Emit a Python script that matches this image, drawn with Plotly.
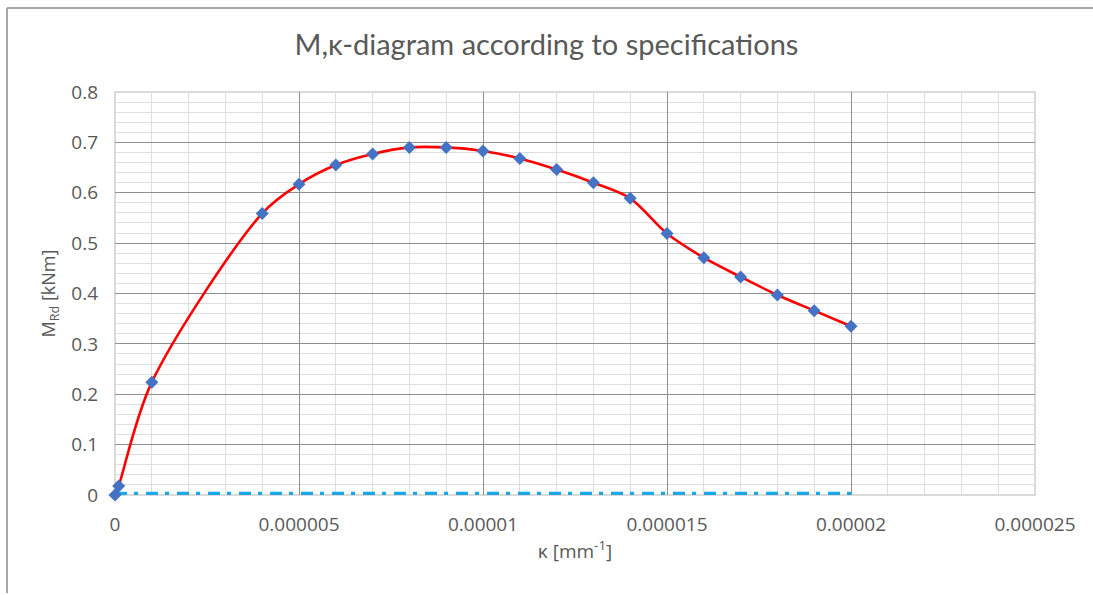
import plotly.graph_objects as go

# Curvature κ [mm^-1] and design moment M_Rd [kNm]
kappa = [0, 0.0000001, 0.000001, 0.000004, 0.000005, 0.000006, 0.000007,
         0.000008, 0.000009, 0.00001, 0.000011, 0.000012, 0.000013, 0.000014,
         0.000015, 0.000016, 0.000017, 0.000018, 0.000019, 0.00002]
m_rd = [0, 0.018, 0.224, 0.559, 0.617, 0.655, 0.677, 0.690, 0.690, 0.683,
        0.668, 0.646, 0.620, 0.589, 0.519, 0.471, 0.433, 0.397, 0.366, 0.335]

# Reference line along the bottom
ref_kappa = [0, 0.00002]
ref_m = [0.003, 0.003]

x_ticks = [0, 0.000005, 0.00001, 0.000015, 0.00002, 0.000025]
x_tick_text = ["0", "0.000005", "0.00001", "0.000015", "0.00002", "0.000025"]
y_ticks = [0, 0.1, 0.2, 0.3, 0.4, 0.5, 0.6, 0.7, 0.8]
y_tick_text = ["0", "0.1", "0.2", "0.3", "0.4", "0.5", "0.6", "0.7", "0.8"]

TXT = "#595959"
MAJOR = "#8f8f8f"
MINOR = "#dedede"
FONT = "Open Sans"

fig = go.Figure()

fig.add_trace(go.Scatter(
    x=ref_kappa, y=ref_m, mode="lines",
    line=dict(color="#1aa7e6", width=3.5, dash="12px,7px,4px,8px"),
    showlegend=False, hoverinfo="skip",
))

fig.add_trace(go.Scatter(
    x=kappa, y=m_rd, mode="lines+markers",
    line=dict(color="#ff0000", width=2.6, shape="spline", smoothing=0.9),
    marker=dict(symbol="diamond", size=10, color="#4472c4"),
    cliponaxis=False,
    showlegend=False,
))

fig.update_xaxes(
    range=[0, 0.000025],
    tickmode="array", tickvals=x_ticks, ticktext=x_tick_text,
    showgrid=True, gridcolor=MAJOR, gridwidth=1.3,
    minor=dict(dtick=0.000001, showgrid=True, gridcolor=MINOR, gridwidth=1),
    zeroline=False, showline=False, ticks="",
    ticklabelstandoff=16,
    tickfont=dict(family=FONT, size=19, color=TXT),
    title=dict(text="κ [mm<sup>-1</sup>]", font=dict(family=FONT, size=19, color=TXT),
               standoff=8),
)
fig.update_yaxes(
    range=[0, 0.8],
    tickmode="array", tickvals=y_ticks, ticktext=y_tick_text,
    showgrid=True, gridcolor=MAJOR, gridwidth=1.3,
    minor=dict(dtick=0.02, showgrid=True, gridcolor=MINOR, gridwidth=1),
    zeroline=False, showline=False, ticks="",
    ticklabelstandoff=16,
    tickfont=dict(family=FONT, size=19, color=TXT),
    title=dict(text="M<sub>Rd</sub> [kNm]", font=dict(family=FONT, size=18, color=TXT),
               standoff=10),
)

# light frame of the plot area, drawn over the edge gridlines
fig.add_shape(type="rect", xref="paper", yref="paper", x0=0, x1=1, y0=0, y1=1,
              line=dict(color="#d0d0d0", width=1.5), layer="between")
# outer chart border: top and left edges
fig.add_shape(type="line", xref="paper", yref="paper",
              x0=-0.1174, x1=1.1, y0=1.2084, y1=1.2084,
              line=dict(color="#a6a6a6", width=2), layer="above")
fig.add_shape(type="line", xref="paper", yref="paper",
              x0=-0.1174, x1=-0.1174, y0=-0.2432, y1=1.2084,
              line=dict(color="#a6a6a6", width=2), layer="above")

fig.update_layout(
    width=1093, height=595,
    margin=dict(l=115, r=58, t=92, b=100),
    paper_bgcolor="white", plot_bgcolor="white",
    title=dict(text="M,κ-diagram according to specifications",
               font=dict(family="Lato", size=29, color=TXT),
               x=0.5, xanchor="center", y=0.925, yanchor="middle"),
)

fig.write_html("out.html")
